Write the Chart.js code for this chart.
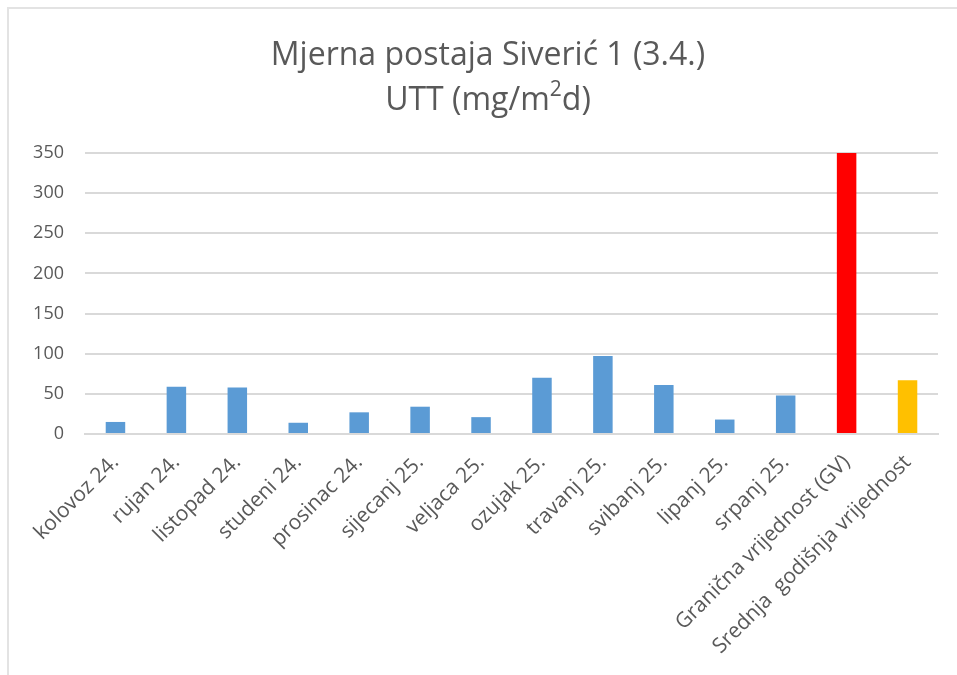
<!DOCTYPE html>
<html>
<head>
<meta charset="utf-8">
<script src="https://cdn.jsdelivr.net/npm/chart.js@4/dist/chart.umd.min.js"></script>
<style>
  html, body { margin: 0; padding: 0; background: #fff; }
  #wrap { position: relative; width: 957px; height: 675px; overflow: hidden; }
  #frame { position: absolute; left: 7px; top: 7px; width: 1000px; height: 700px; border: 2px solid #e3e3e3; box-sizing: border-box; }
  canvas { position: absolute; left: 0; top: 0; }
  #title {
    position: absolute; left: 0; top: 30px; width: 976px; text-align: center;
    font-family: "Open Sans", "Noto Sans", sans-serif; font-size: 32px; line-height: 45px; color: #595959;
  }
  #title sup { font-size: 21px; line-height: 0; position: relative; top: -2px; }
</style>
</head>
<body>
<div id="wrap">
  <div id="frame"></div>
  <canvas id="chart" width="957" height="675"></canvas>
  <div id="title"></div>
</div>
<script>
const categories = ['kolovoz 24.', 'rujan 24.', 'listopad 24.', 'studeni 24.', 'prosinac 24.', 'sijecanj 25.', 'veljaca 25.', 'ozujak 25.', 'travanj 25.', 'svibanj 25.', 'lipanj 25.', 'srpanj 25.', 'Granična vrijednost (GV)', 'Srednja  godišnja vrijednost'];
const values = [15, 59, 58, 14, 27, 34, 21, 70, 97, 61, 18, 48, 350, 67];
const barColors = ['#5b9bd5', '#5b9bd5', '#5b9bd5', '#5b9bd5', '#5b9bd5', '#5b9bd5', '#5b9bd5', '#5b9bd5', '#5b9bd5', '#5b9bd5', '#5b9bd5', '#5b9bd5', '#ff0000', '#ffc000'];
const titleLines = ['Mjerna postaja Siverić 1 (3.4.)', 'UTT (mg/m<sup>2</sup>d)'];

document.getElementById('title').innerHTML = titleLines.join('<br>');

const font = '"Open Sans", "Noto Sans", sans-serif';

new Chart(document.getElementById('chart').getContext('2d'), {
    type: 'bar',
    data: {
        labels: categories,
        datasets: [{
            data: values,
            backgroundColor: barColors,
            barPercentage: 0.32,
            categoryPercentage: 1
        }]
    },
    options: {
        responsive: false,
        animation: false,
        layout: { padding: { left: 0, right: 19, top: 153, bottom: 0 } },
        plugins: {
            legend: { display: false },
            tooltip: { enabled: false },
            title: { display: false }
        },
        scales: {
            x: {
                grid: { display: false },
                border: { color: '#d9d9d9', width: 2 },
                ticks: {
                    autoSkip: false,
                    minRotation: 45,
                    maxRotation: 45,
                    color: '#595959',
                    font: { family: font, size: 21 },
                    padding: 8
                },
                afterFit: (scale) => { scale.height = 241; }
            },
            y: {
                min: 0,
                max: 350,
                border: { display: false },
                grid: { color: '#d9d9d9', lineWidth: 2, drawTicks: false },
                ticks: {
                    stepSize: 50,
                    color: '#595959',
                    font: { family: font, size: 18 },
                    padding: 21
                },
                afterFit: (scale) => { scale.width = 85; }
            }
        }
    }
});
</script>
</body>
</html>
